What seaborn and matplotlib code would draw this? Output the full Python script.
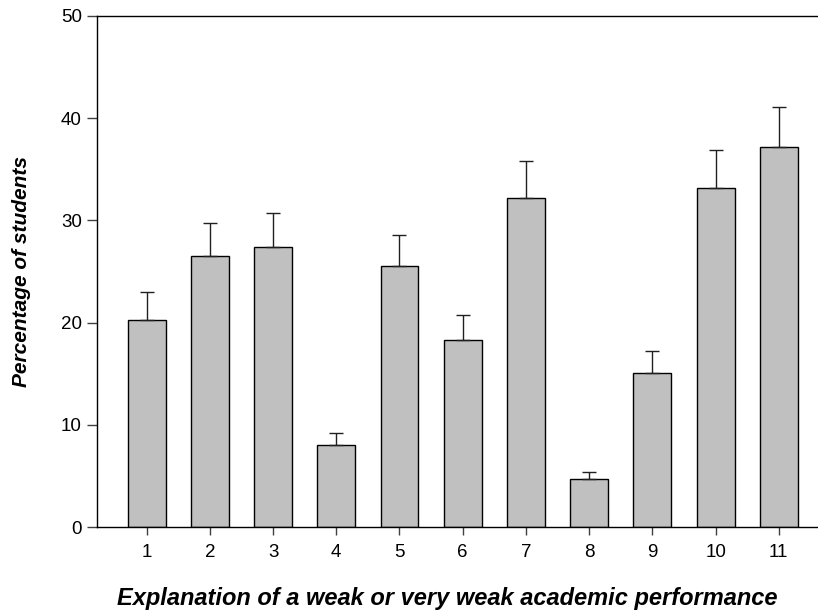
import pandas as pd
import matplotlib
matplotlib.use("Agg")
import matplotlib.pyplot as plt
import seaborn as sns

# === DATA ===
categories = ["1", "2", "3", "4", "5", "6", "7", "8", "9", "10", "11"]
percent = [20.3, 26.5, 27.4, 8.0, 25.5, 18.3, 32.2, 4.7, 15.1, 33.2, 37.2]
err_upper = [2.7, 3.2, 3.3, 1.2, 3.1, 2.4, 3.6, 0.7, 2.1, 3.7, 3.9]

df = pd.DataFrame({"Explanation": categories, "Percent": percent, "Err": err_upper})

# === STYLE ===
sns.set_theme(style="white")
plt.rcParams["font.family"] = ["Liberation Sans", "DejaVu Sans"]
plt.rcParams["text.color"] = "black"
plt.rcParams["axes.labelcolor"] = "black"
plt.rcParams["xtick.color"] = "black"
plt.rcParams["ytick.color"] = "black"

fig = plt.figure(figsize=(8.18, 6.15), dpi=100)
ax = fig.add_axes([97 / 818, 88 / 615, 1 - 97 / 818, (527 - 16) / 615])

sns.barplot(data=df, x="Explanation", y="Percent", color="#c0c0c0",
            edgecolor="black", linewidth=1.0, width=0.6, saturation=1,
            errorbar=None, ax=ax)

# upper error bars only
ax.errorbar(range(len(categories)), df["Percent"],
            yerr=[[0] * len(categories), df["Err"]],
            fmt="none", ecolor="#202020", elinewidth=1.0, capsize=5, capthick=1.0)

ax.set_ylim(0, 50)
ax.set_xlim(-0.785, 10.62)
ax.set_yticks([0, 10, 20, 30, 40, 50])

for side in ["left", "bottom", "top"]:
    ax.spines[side].set_visible(True)
    ax.spines[side].set_color("black")
    ax.spines[side].set_linewidth(1.0)
ax.spines["right"].set_visible(False)

ax.tick_params(axis="y", direction="out", length=7, width=1, color="#404040",
               labelsize=13.5, pad=4, left=True, labelcolor="black")
ax.tick_params(axis="x", direction="out", length=5.5, width=1, color="#404040",
               labelsize=13.5, pad=7, bottom=True, labelcolor="black")

ax.set_xlabel("Explanation of a weak or very weak academic performance",
              fontsize=17, fontweight="bold", fontstyle="italic", color="black")
ax.set_ylabel("Percentage of students",
              fontsize=15, fontweight="bold", fontstyle="italic", color="black")
ax.xaxis.set_label_coords((447 - 97) / (818 - 97), -(598 - 527) / 511)
ax.yaxis.set_label_coords(-(97 - 22) / (818 - 97), 0.5)
ax.xaxis.label.set_va("center")
ax.yaxis.label.set_va("center")

fig.savefig("out.png", dpi=100)
plt.close(fig)
